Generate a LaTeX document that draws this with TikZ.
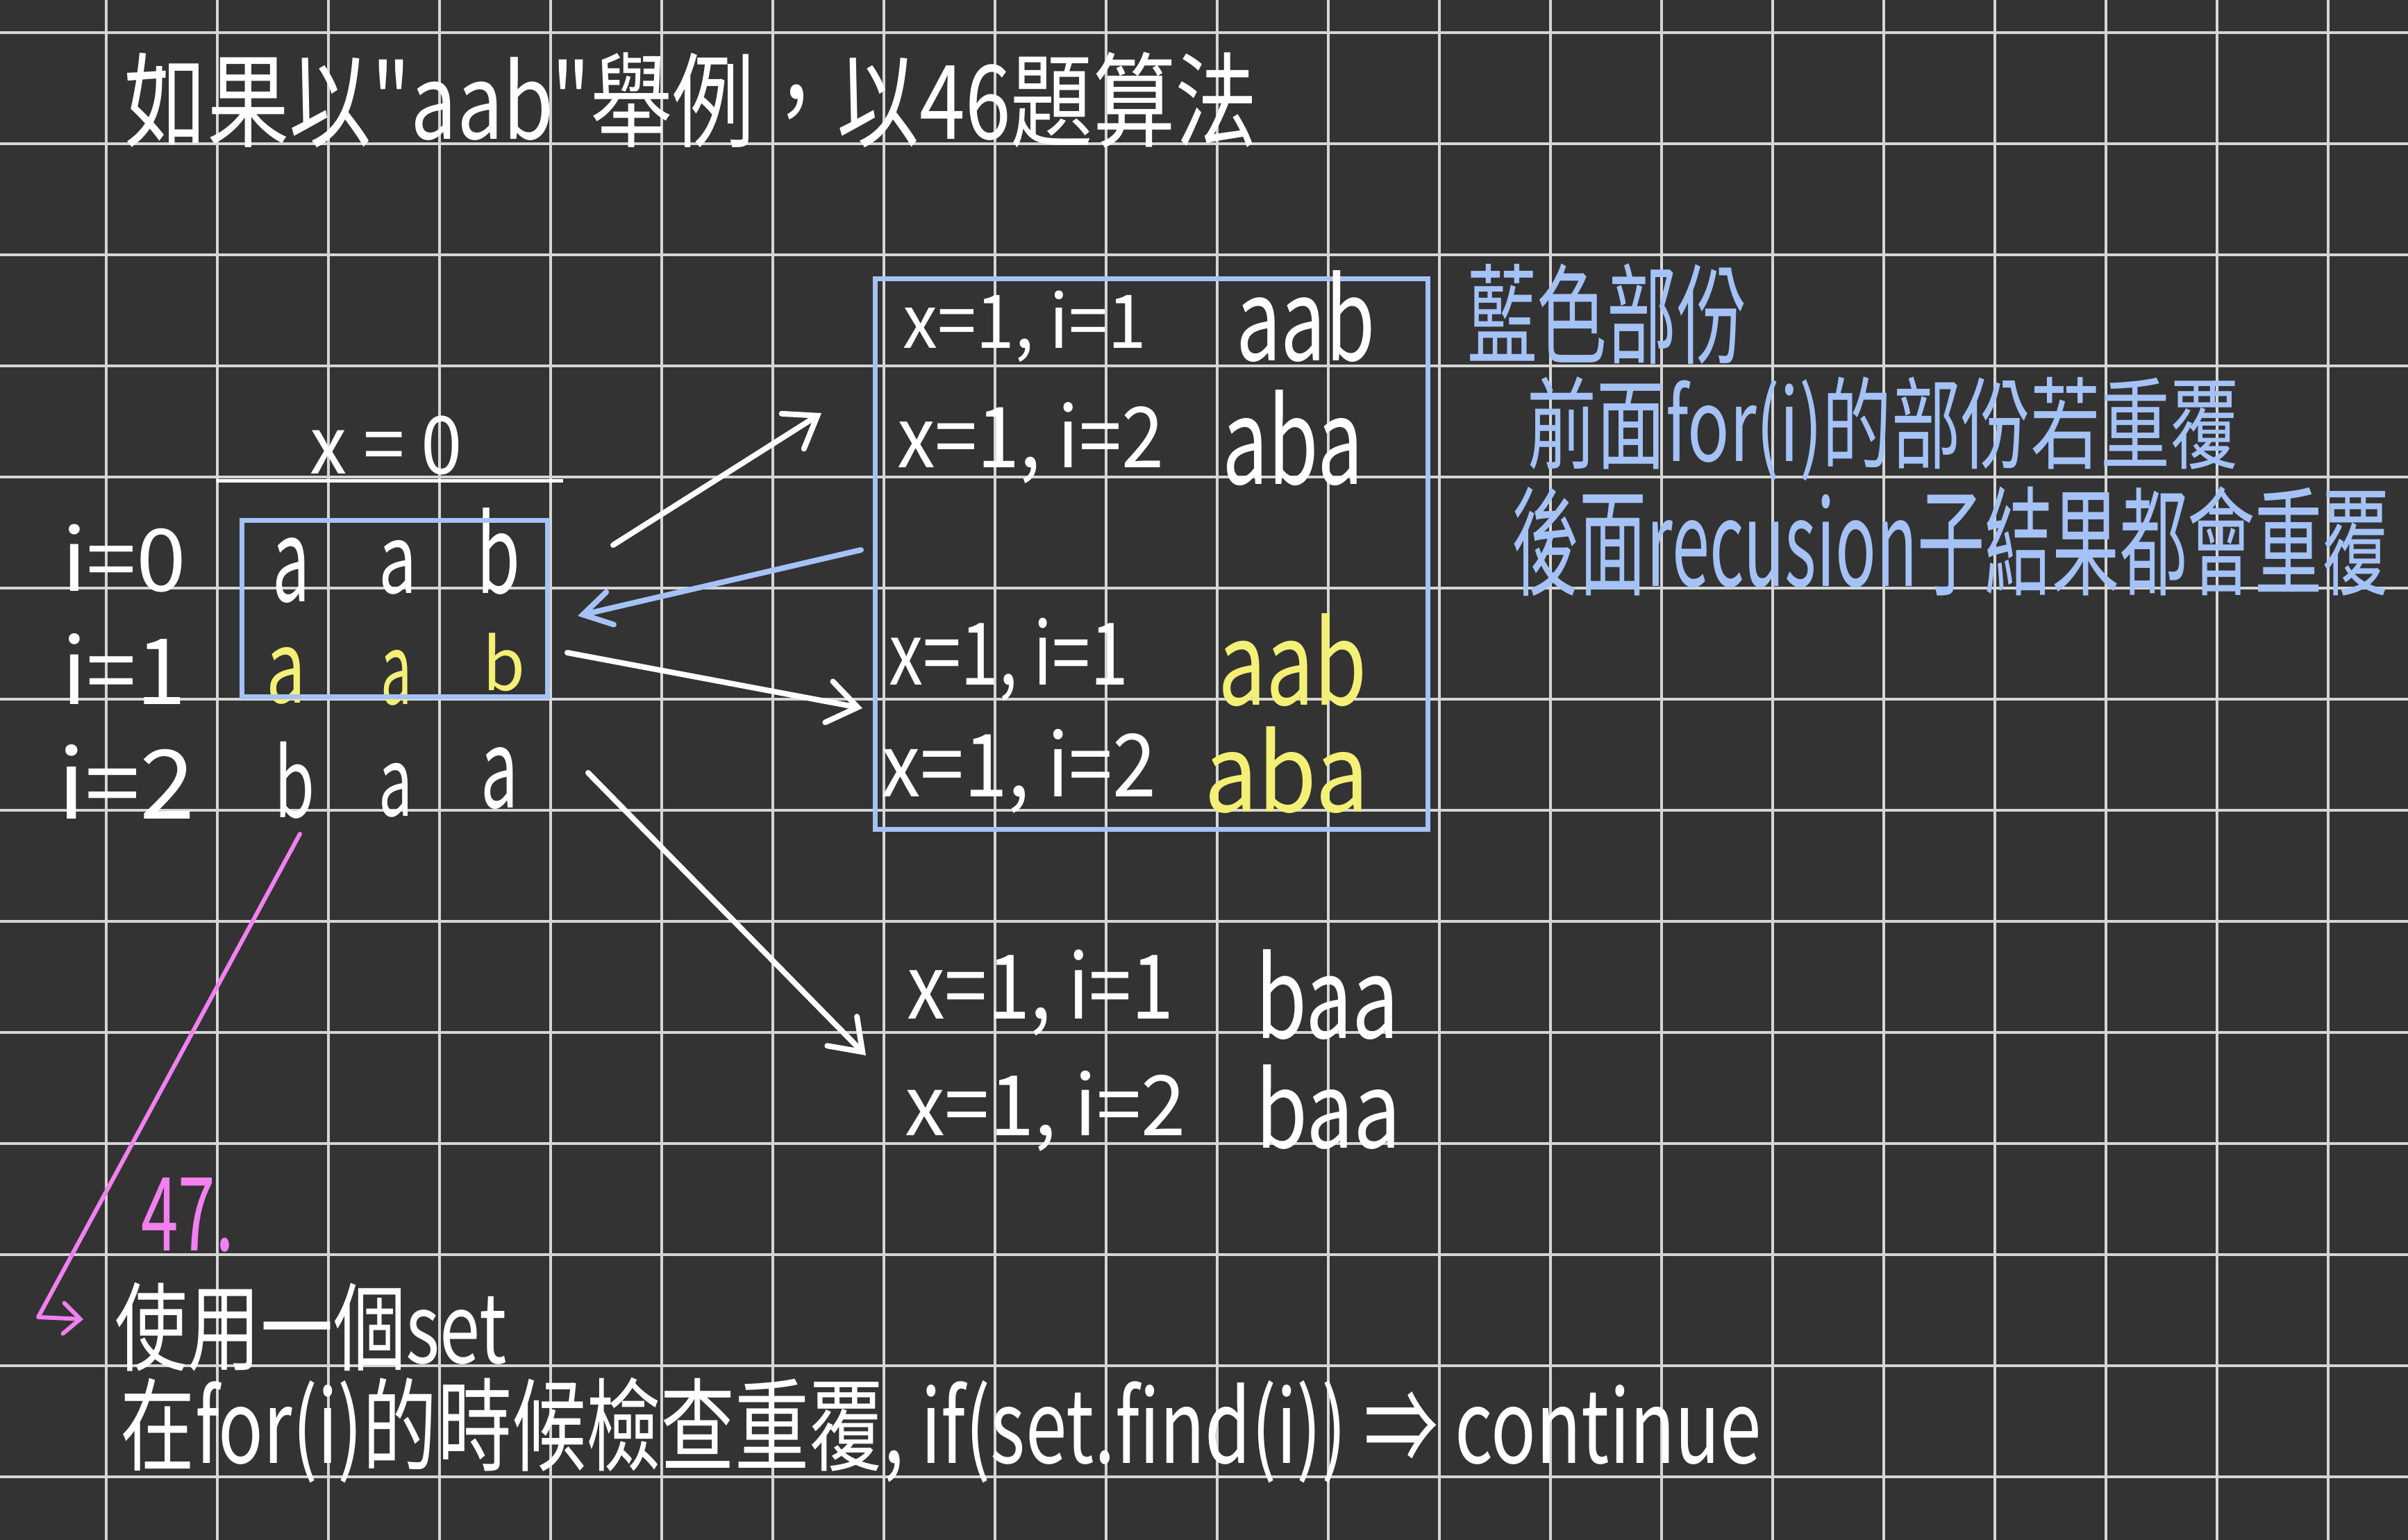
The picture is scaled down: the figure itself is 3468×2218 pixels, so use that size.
\documentclass[tikz,border=0pt]{standalone}
\usepackage{fontspec}
\usepackage{graphicx}
\usetikzlibrary{arrows.meta}
\newfontfamily\cjk{Noto Sans CJK TC}
\definecolor{bgc}{RGB}{51,51,51}
\definecolor{gridc}{RGB}{214,214,214}
\definecolor{penblue}{RGB}{164,194,246}
\definecolor{penyellow}{RGB}{244,240,118}
\definecolor{penpink}{RGB}{242,128,240}
\newcommand\fitt[3]{\resizebox*{#1pt}{#2pt}{#3}}
\tikzset{
  hw/.style={inner sep=0pt, outer sep=0pt, font=\cjk\fontsize{100pt}{120pt}\selectfont, text=white},
  gridline/.style={draw=gridc, line width=3.5pt},
  pen/.style={draw=white, line width=8pt, line cap=round, line join=round},
  wbarb/.style={pen, -{Straight Barb[length=42pt,width=60pt,line cap=round]}},
  bbarb/.style={pen, draw=penblue, -{Straight Barb[length=40pt,width=48pt,line cap=round]}},
  pbarb/.style={pen, draw=penpink, line width=6pt, -{Straight Barb[length=24pt,width=44pt,line cap=round]}},
  bluebox/.style={draw=penblue, line width=7pt}
}
\begin{document}
\begin{tikzpicture}[x=1pt,y=-1pt]
\useasboundingbox (0,0) rectangle (3468,2218);
\fill[bgc] (0,0) rectangle (3468,2218);
% grid
\foreach \k in {0,...,20} \draw[gridline] (153+160*\k,0) -- (153+160*\k,2218);
\foreach \k in {0,...,13} \draw[gridline] (0,47+160*\k) -- (3468,47+160*\k);

% title
\node[hw] (title) at (995.5,144) {\fitt{1631}{138}{如果以"aab"舉例，以46題算法}};

% x = 0 header
\node[hw] (x0) at (556,641.5) {\fitt{220}{85}{x = 0}};
\coordinate (ulL) at (312,692);
\coordinate (ulR) at (811,692);
\draw[draw=white, line width=5pt] (ulL) -- (ulR);

% row labels
\node[hw] (i0) at (178.5,804) {\fitt{179}{98}{i=0}};
\node[hw] (i1) at (178.5,963) {\fitt{179}{102}{i=1}};
\node[hw] (i2) at (182,1125.5) {\fitt{198}{107}{i=2}};

% matrix
\node[hw] (r0a) at (419,822) {\fitt{54}{94}{a}};
\node[hw] (r0b) at (572.5,817) {\fitt{55}{78}{a}};
\node[hw] (r0c) at (717.5,793.5) {\fitt{63}{125}{b}};
\node[hw, text=penyellow] (r1a) at (411.5,973) {\fitt{57}{82}{a}};
\node[hw, text=penyellow] (r1b) at (570.5,976) {\fitt{45}{80}{a}};
\node[hw, text=penyellow] (r1c) at (725.5,954) {\fitt{61}{84}{b}};
\node[hw] (r2a) at (424,1123.5) {\fitt{58}{111}{b}};
\node[hw] (r2b) at (569.5,1138) {\fitt{49}{78}{a}};
\node[hw] (r2c) at (719,1121.5) {\fitt{54}{89}{a}};
\node[bluebox, inner sep=0pt, minimum width=440pt, minimum height=254pt] (mbox) at (568,876) {};

% big blue box group
\node[bluebox, inner sep=0pt, minimum width=796pt, minimum height=793pt] (bigbox) at (1658,797.5) {};
\node[hw] (g1x) at (1475.5,470.5) {\fitt{351}{103}{x=1, i=1}};
\node[hw] (g1s) at (1880.5,456) {\fitt{201}{132}{aab}};
\node[hw] (g2x) at (1484,638.5) {\fitt{384}{117}{x=1, i=2}};
\node[hw] (g2s) at (1861.5,631) {\fitt{203}{138}{aba}};
\node[hw] (g3x) at (1452.5,950) {\fitt{345}{120}{x=1, i=1}};
\node[hw, text=penyellow] (g3s) at (1861.5,951) {\fitt{215}{134}{aab}};
\node[hw] (g4x) at (1467,1110.5) {\fitt{396}{121}{x=1, i=2}};
\node[hw, text=penyellow] (g4s) at (1853,1108.5) {\fitt{238}{125}{aba}};

% lower group
\node[hw] (g5x) at (1498.5,1430) {\fitt{385}{124}{x=1, i=1}};
\node[hw] (g5s) at (1911.5,1433) {\fitt{207}{130}{baa}};
\node[hw] (g6x) at (1505.5,1600) {\fitt{405}{116}{x=1, i=2}};
\node[hw] (g6s) at (1913,1594) {\fitt{210}{122}{baa}};

% blue notes
\node[hw, text=penblue] (n1) at (2314.5,452.5) {\fitt{403}{145}{藍色部份}};
\node[hw, text=penblue] (n2) at (2712,618) {\fitt{1026}{150}{前面for(i)的部份若重覆}};
\node[hw, text=penblue] (n3) at (2809.5,780) {\fitt{1265}{158}{後面recusion子結果都會重覆}};

% bottom notes
\node[hw, text=penpink] (n47) at (270,1749.5) {\fitt{134}{107}{47.}};
\node[hw] (s1) at (448,1911) {\fitt{564}{128}{使用一個set}};
\node[hw] (s2) at (1355.5,2060) {\fitt{2363}{152}{在for(i)的時候檢查重覆, if(set.find(i)) ⇒ continue}};

% connectors
\coordinate (aS) at (883,785);  \coordinate (aE) at (1183,595);
\coordinate (bS) at (1240,792); \coordinate (bE) at (832,887);
\coordinate (cS) at (817,940);  \coordinate (cE) at (1242,1020);
\coordinate (dS) at (847,1113); \coordinate (dE) at (1247,1520);
\coordinate (pS) at (432,1201); \coordinate (pM) at (55,1897); \coordinate (pE) at (120,1900);
\draw[wbarb] (aS) -- (aE);
\draw[bbarb] (bS) -- (bE);
\draw[wbarb] (cS) -- (cE);
\draw[wbarb] (dS) -- (dE);
\draw[pbarb] (pS) -- (pM) -- (pE);
\end{tikzpicture}
\end{document}
